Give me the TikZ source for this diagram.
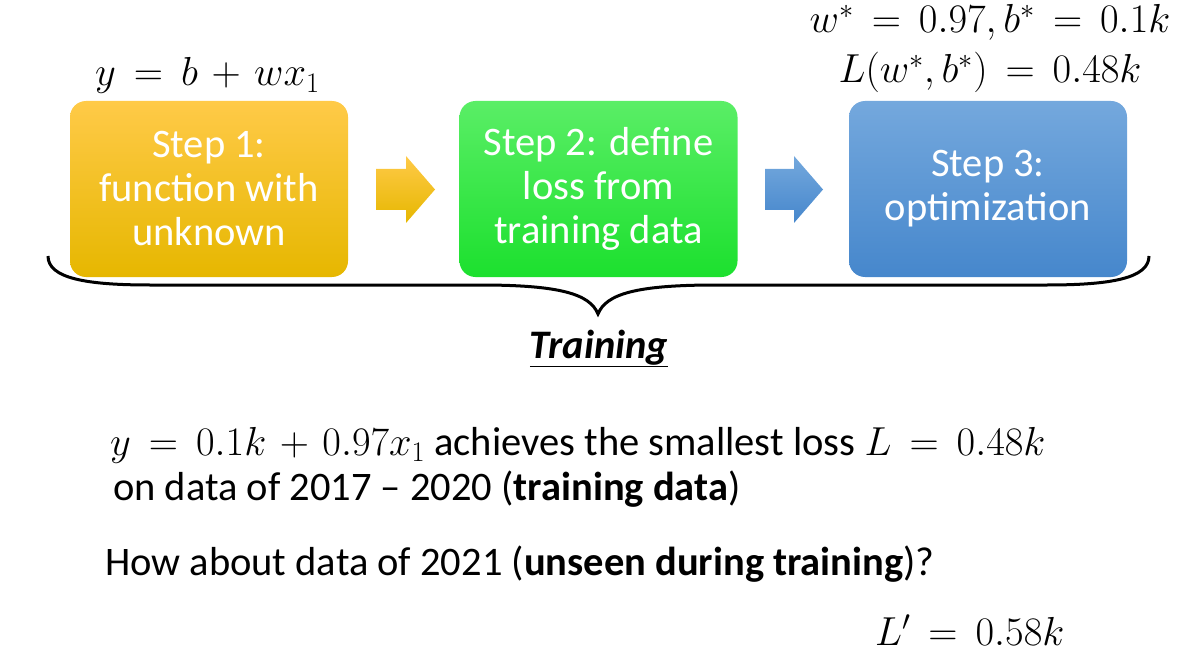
\documentclass[tikz,border=0pt]{standalone}
\usepackage{fix-cm}
\usepackage{fontspec}
\setmainfont{Carlito}
\definecolor{goldT}{RGB}{255,202,72}
\definecolor{goldM}{RGB}{255,192,0}
\definecolor{goldB}{RGB}{230,183,0}
\definecolor{greenT}{RGB}{90,238,102}
\definecolor{greenB}{RGB}{28,224,46}
\definecolor{blueT}{RGB}{116,168,221}
\definecolor{blueB}{RGB}{70,135,204}
\thickmuskip=8mu plus 2mu
\medmuskip=6mu plus 2mu
\tikzset{
  big/.style={font={\fontsize{40.5}{44}\selectfont\thickmuskip=8mu plus 2mu\medmuskip=6mu plus 2mu}},
  stepbox/.style={big, text=white, align=center, minimum width=278pt, minimum height=176pt,
     rounded corners=16pt, inner sep=0pt},
  lbl/.style={big, inner sep=0pt},
}
\begin{document}
\begin{tikzpicture}[x=1pt,y=-1pt]
\useasboundingbox (0,0) rectangle (1187,666);
% boxes
\node[stepbox, top color=goldT, middle color=goldM, bottom color=goldB] (s1) at (209,189) {Step 1:\\function with\\unknown};
\node[stepbox, top color=greenT, bottom color=greenB] (s2) at (598.5,189) {Step 2: define\\loss from\\training data};
\node[stepbox, top color=blueT, bottom color=blueB] (s3) at (988,189) {Step 3:\\optimization};
% block arrows
\shade[top color=goldT, middle color=goldM, bottom color=goldB]
  (376,169) -- (406,169) -- (406,156) -- (435,189.5) -- (406,223) -- (406,210) -- (376,210) -- cycle;
\shade[top color=blueT, bottom color=blueB]
  (765,169) -- (794,169) -- (794,156) -- (823,189.5) -- (794,223) -- (794,210) -- (765,210) -- cycle;
% brace
\draw[line width=3pt] (48,256) .. controls (48,278) and (85,285) .. (150,285) -- (480,285)
  .. controls (560,285) and (590,294) .. (598,314)
  .. controls (606,294) and (636,285) .. (716,285) -- (1047,285)
  .. controls (1112,285) and (1149,278) .. (1149,256);
% labels
\node[lbl, anchor=base west] (f) at (95,86) {$y = b + wx_1$};
\node[lbl, anchor=base] (wb) at (990,33) {$w^* = 0.97, b^* = 0.1k$};
\node[lbl, anchor=base] (lw) at (990,83) {$L(w^*, b^*) = 0.48k$};
\node[lbl, anchor=base] (tr) at (599,358) {\underline{\textbf{\textit{Training}}}};
\node[lbl, anchor=base west] (r1) at (110,455) {$y = 0.1k + 0.97x_1$ achieves the smallest loss $L = 0.48k$};
\node[lbl, anchor=base west] (r2) at (113,500) {on data of 2017 -- 2020 (\textbf{training data})};
\node[lbl, anchor=base west] (q) at (105,575) {How about data of 2021 (\textbf{unseen during training})?};
\node[lbl, anchor=base west] (lp) at (875,645) {$L' = 0.58k$};
\end{tikzpicture}
\end{document}
